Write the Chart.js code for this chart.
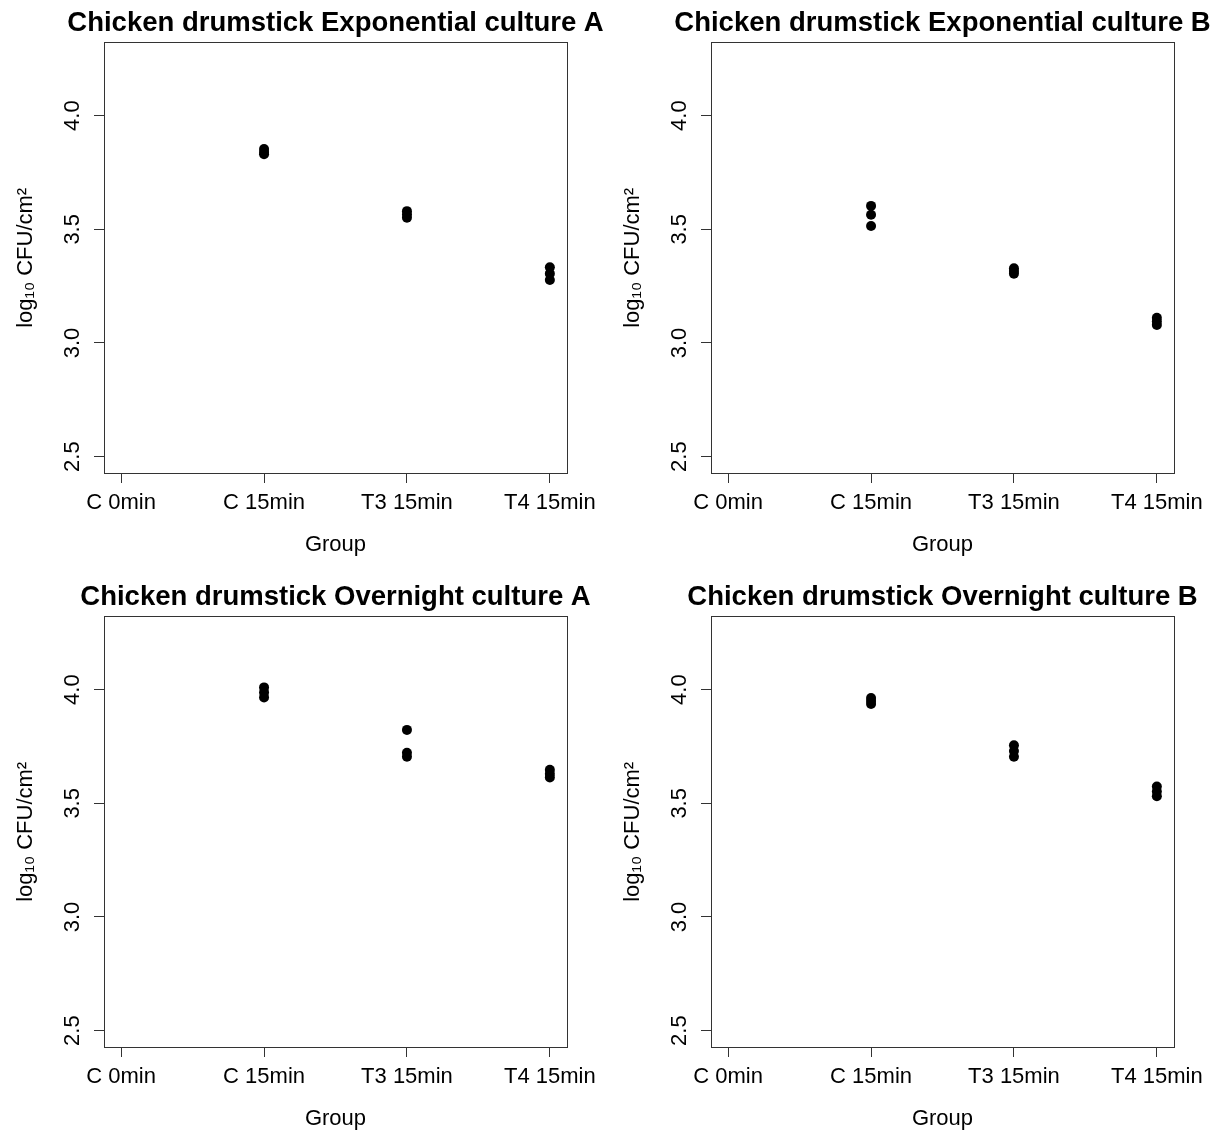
<!DOCTYPE html>
<html>
<head>
<meta charset="utf-8">
<script src="https://cdn.jsdelivr.net/npm/chart.js@4/dist/chart.umd.min.js"></script>
<style>
  html, body { margin: 0; padding: 0; background: #fff; overflow: hidden; }
  #wrap { position: relative; width: 1218px; height: 1133px; overflow: hidden; background: #fff; }
  canvas { position: absolute; }
</style>
</head>
<body>
<div id="wrap">
  <canvas id="expA" width="671" height="574" style="left:0px;top:0px"></canvas>
  <canvas id="expB" width="671" height="574" style="left:607px;top:0px"></canvas>
  <canvas id="ovnA" width="671" height="574" style="left:0px;top:574px"></canvas>
  <canvas id="ovnB" width="671" height="574" style="left:607px;top:574px"></canvas>
</div>
<script>
// groups on the x axis (C 0min has no points)
const groups = ['C 0min', 'C 15min', 'T3 15min', 'T4 15min'];
const yTicks = [2.5, 3.0, 3.5, 4.0];

// log10 CFU/cm2, three replicates per group
const expA_c15 = [3.853, 3.84, 3.83];
const expA_t3 = [3.58, 3.565, 3.551];
const expA_t4 = [3.333, 3.305, 3.277];

const expB_c15 = [3.603, 3.564, 3.515];
const expB_t3 = [3.329, 3.317, 3.305];
const expB_t4 = [3.111, 3.095, 3.079];

const ovnA_c15 = [4.01, 3.988, 3.966];
const ovnA_t3 = [3.823, 3.722, 3.705];
const ovnA_t4 = [3.648, 3.63, 3.614];

const ovnB_c15 = [3.963, 3.95, 3.937];
const ovnB_t3 = [3.755, 3.73, 3.705];
const ovnB_t4 = [3.574, 3.552, 3.531];

Chart.defaults.font.family = '"Liberation Sans", Arial, sans-serif';
Chart.defaults.color = '#000';

function toPoints(c15, t3, t4) {
  const pts = [];
  [c15, t3, t4].forEach((vals, i) => {
    vals.forEach(v => pts.push({ x: i + 2, y: v }));
  });
  return pts;
}

function makePanel(id, title, c15, t3, t4) {
  new Chart(document.getElementById(id), {
    type: 'scatter',
    data: {
      datasets: [{
        data: toPoints(c15, t3, t4),
        xAxisID: 'x',
        yAxisID: 'y',
        backgroundColor: '#000',
        borderWidth: 0,
        pointRadius: 5,
        pointHoverRadius: 5
      }]
    },
    options: {
      responsive: false,
      animation: false,
      events: [],
      layout: { padding: 0 },
      plugins: {
        legend: { display: false },
        tooltip: { enabled: false },
        title: {
          display: true,
          text: title,
          color: '#000',
          font: { size: 27.5, weight: 'bold' },
          padding: { top: 7, bottom: 2.7 }
        }
      },
      scales: {
        x: {
          type: 'linear',
          position: 'bottom',
          min: 0.88,
          max: 4.12,
          afterBuildTicks: s => { s.ticks = [1, 2, 3, 4].map(v => ({ value: v })); },
          afterFit: s => { s.height = 101; },
          ticks: {
            autoSkip: false,
            maxRotation: 0,
            minRotation: 0,
            padding: 7,
            font: { size: 22 },
            callback: v => groups[v - 1]
          },
          grid: { display: true, drawOnChartArea: false, drawTicks: true, tickLength: 10, tickColor: '#333' },
          border: { display: true, color: '#333', width: 1 },
          title: { display: true, text: 'Group', font: { size: 22 }, padding: { top: 0, bottom: 16 } }
        },
        y: {
          type: 'linear',
          position: 'left',
          min: 2.428,
          max: 4.321,
          afterBuildTicks: s => { s.ticks = yTicks.map(v => ({ value: v })); },
          afterFit: s => { s.width = 104; },
          ticks: {
            minRotation: 90,
            maxRotation: 90,
            crossAlign: 'center',
            padding: 6,
            font: { size: 22 },
            callback: v => v.toFixed(1)
          },
          grid: { display: true, drawOnChartArea: false, drawTicks: true, tickLength: 10, tickColor: '#333' },
          border: { display: true, color: '#333', width: 1 },
          title: { display: true, text: 'log\u2081\u2080 CFU/cm\u00B2', font: { size: 22 }, padding: { top: 12.8, bottom: 0 } }
        },
        x2: {
          type: 'linear',
          position: 'top',
          afterFit: s => { s.height = 0; },
          ticks: { display: false },
          grid: { display: false },
          border: { display: true, color: '#333', width: 1 }
        },
        y2: {
          type: 'linear',
          position: 'right',
          afterFit: s => { s.width = 104; },
          ticks: { display: false },
          grid: { display: false },
          border: { display: true, color: '#333', width: 1 }
        }
      }
    }
  });
}

makePanel('expA', 'Chicken drumstick Exponential culture A', expA_c15, expA_t3, expA_t4);
makePanel('expB', 'Chicken drumstick Exponential culture B', expB_c15, expB_t3, expB_t4);
makePanel('ovnA', 'Chicken drumstick Overnight culture A', ovnA_c15, ovnA_t3, ovnA_t4);
makePanel('ovnB', 'Chicken drumstick Overnight culture B', ovnB_c15, ovnB_t3, ovnB_t4);
</script>
</body>
</html>
